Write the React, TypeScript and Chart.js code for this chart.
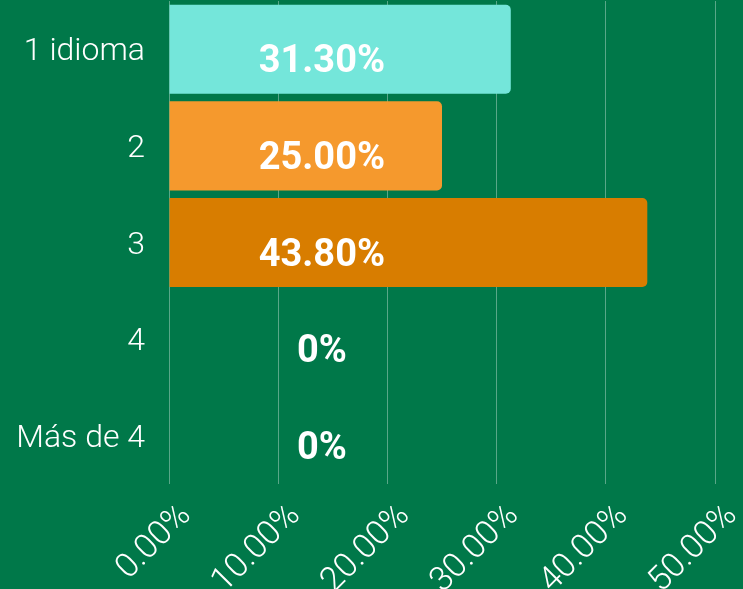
import React, { useEffect, useRef } from "react";
import { Chart, registerables } from "chart.js";

Chart.register(...registerables);

const categories = ["1 idioma", "2", "3", "4", "Más de 4"];
const values = [31.3, 25.0, 43.8, 0, 0];
const valueLabels = ["31.30%", "25.00%", "43.80%", "0%", "0%"];
const barColors = ["#74E6DA", "#F5992D", "#D87D00", "#74E6DA", "#F5992D"];
const xTicks = [0, 10, 20, 30, 40, 50];

const BG = "#007849";

const labelPlugin = {
  id: "valueLabels",
  afterDatasetsDraw(chart: any) {
    const { ctx, scales } = chart;
    const xs = scales.x;
    const ys = scales.y;
    ctx.save();
    ctx.fillStyle = "#ffffff";
    ctx.font = "bold 38px Roboto";
    ctx.textAlign = "center";
    ctx.textBaseline = "alphabetic";
    const cx = xs.getPixelForValue(14);
    valueLabels.forEach((t, i) => {
      const cy = ys.getPixelForValue(i) + 23;
      ctx.fillText(t, cx, cy);
    });
    ctx.restore();
  },
};

const bgPlugin = {
  id: "bg",
  beforeDraw(chart: any) {
    const { ctx, width, height } = chart;
    ctx.save();
    ctx.fillStyle = BG;
    ctx.fillRect(0, 0, width, height);
    ctx.restore();
  },
};

export default function App() {
  const ref = useRef<HTMLCanvasElement>(null);
  useEffect(() => {
    if (!ref.current) return;
    const chart = new Chart(ref.current, {
      type: "bar",
      data: {
        labels: categories,
        datasets: [
          {
            data: values,
            backgroundColor: barColors,
            borderRadius: 5,
            borderSkipped: "start",
            barPercentage: 0.922,
            categoryPercentage: 1,
          },
        ],
      },
      options: {
        indexAxis: "y",
        animation: false,
        responsive: false,
        layout: { padding: { top: 1, right: 28, left: 0, bottom: 0 } },
        plugins: { legend: { display: false }, tooltip: { enabled: false } },
        scales: {
          x: {
            min: 0,
            max: 50,
            afterBuildTicks(scale: any) {
              scale.ticks = xTicks.map((v) => ({ value: v }));
            },
            afterFit(scale: any) {
              scale.height = 105;
              scale.paddingLeft = 0;
              scale.paddingRight = 0;
            },
            grid: {
              color: "rgba(255,255,255,0.35)",
              drawTicks: false,
            },
            border: { display: false },
            ticks: {
              color: "#ffffff",
              font: { family: "Roboto", size: 34, weight: "300" },
              minRotation: 45,
              maxRotation: 45,
              padding: 12,
              labelOffset: 17,
              callback: (v: any) => Number(v).toFixed(2) + "%",
            },
          },
          y: {
            afterFit(scale: any) {
              scale.width = 169;
              scale.paddingTop = 0;
              scale.paddingBottom = 0;
            },
            grid: { display: false, drawTicks: false },
            border: { display: false },
            ticks: {
              color: "#ffffff",
              font: { family: "Roboto", size: 32, weight: "300" },
              padding: 24,
              labelOffset: 3,
            },
          },
        },
      },
      plugins: [bgPlugin, labelPlugin],
    });
    return () => chart.destroy();
  }, []);
  return (
    <div
      style={{
        position: "fixed",
        left: 0,
        top: 0,
        width: 743,
        height: 589,
        overflow: "hidden",
        background: BG,
      }}
    >
      <canvas ref={ref} width={743} height={589} style={{ display: "block" }} />
    </div>
  );
}
